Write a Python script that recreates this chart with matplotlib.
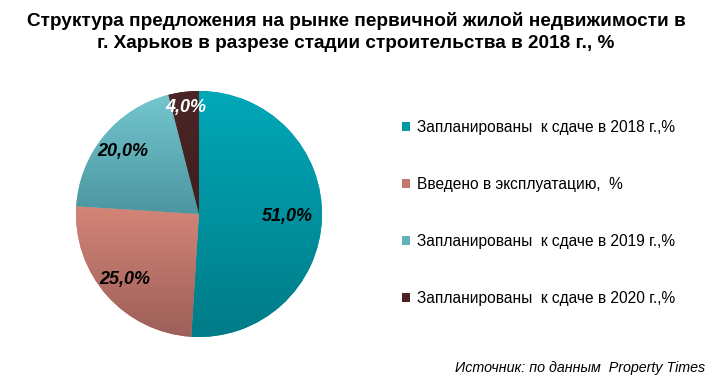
import numpy as np
import matplotlib
matplotlib.use('Agg')
import matplotlib.pyplot as plt
from matplotlib.colors import to_rgb

# data
labels = ['Запланированы  к сдаче в 2018 г.,%',
          'Введено в эксплуатацию,  %',
          'Запланированы  к сдаче в 2019 г.,%',
          'Запланированы  к сдаче в 2020 г.,%']
values = [51.0, 25.0, 20.0, 4.0]
colors = ['#0097a6', '#c07870', '#60b2bc', '#4a2424']
top_colors = ['#00a8b8', '#d48578', '#74c6cf', '#4c2626']
bottom_colors = ['#007b87', '#9c5f58', '#4c96a0', '#3e1e1e']
label_colors = ['black', 'black', 'black', 'white']
label_dist = [0.72, 0.80, 0.80, 0.875]

title = ('Структура предложения на рынке первичной жилой недвижимости в\n'
         'г. Харьков в разрезе стадии строительства в 2018 г., %')
source = 'Источник: по данным  Property Times'

W, H = 712, 379
fig = plt.figure(figsize=(W / 100, H / 100), dpi=100)
cx, cy, r = 199, 214, 123
pad = 2
ax = fig.add_axes([(cx - r - pad) / W, (H - cy - r - pad) / H,
                   2 * (r + pad) / W, 2 * (r + pad) / H])

wedges, _ = ax.pie(values, colors=colors, startangle=90, counterclock=False,
                   radius=1, wedgeprops=dict(linewidth=0))

# vertical gradient in every slice
for w, c1, c2 in zip(wedges, top_colors, bottom_colors):
    ext = w.get_path().get_extents()
    t = np.linspace(0, 1, 256)[:, None]
    grad = (1 - t) * np.array(to_rgb(c1)) + t * np.array(to_rgb(c2))
    im = ax.imshow(grad[:, None, :].repeat(2, axis=1),
                   extent=(ext.x0, ext.x1, ext.y0, ext.y1),
                   origin='upper', aspect='auto', zorder=w.get_zorder() + 0.1)
    im.set_clip_path(w)

# percentage labels
for w, v, d, lc in zip(wedges, values, label_dist, label_colors):
    ang = np.deg2rad((w.theta1 + w.theta2) / 2)
    ax.text(d * np.cos(ang), d * np.sin(ang), f'{v:.1f}%'.replace('.', ','),
            ha='center', va='center', fontsize=13, fontweight='bold',
            fontstyle='italic', color=lc, family='Liberation Sans', zorder=5)

lim = 1 + pad / r
ax.set_xlim(-lim, lim)
ax.set_ylim(-lim, lim)
ax.axis('off')

fig.text(0.5, 1 - 32 / H, title, ha='center', va='center', fontsize=13.7,
         fontweight='bold', family='Liberation Sans', linespacing=1.4)

leg = fig.legend(wedges, labels, loc='upper left',
                 bbox_to_anchor=(388 / W, 1 - 106 / H), frameon=False,
                 prop={'family': 'Liberation Sans', 'size': 11.2},
                 handlelength=0.5, handleheight=0.5, handletextpad=0.45,
                 labelspacing=2.7)

fig.text(1 - 7 / W, 1 - 368 / H, source, ha='right', va='center',
         fontsize=10.3, fontstyle='italic', family='Liberation Sans')

fig.savefig('out.png', dpi=100)
